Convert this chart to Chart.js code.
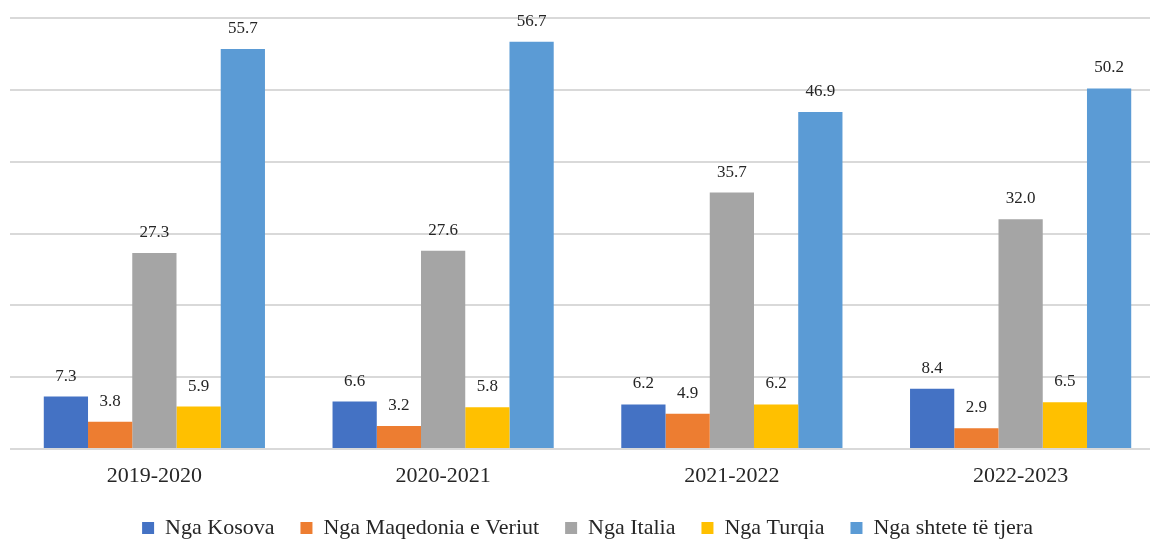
<!DOCTYPE html>
<html>
<head>
<meta charset="utf-8">
<script src="https://cdn.jsdelivr.net/npm/chart.js@4"></script>
<style>
  html, body { margin: 0; padding: 0; background: #fff; overflow: hidden; }
  #wrap { width: 1166px; height: 539px; position: relative; }
</style>
</head>
<body>
<div id="wrap"><canvas id="c"></canvas></div>
<script>
const categories = ['2019-2020', '2020-2021', '2021-2022', '2022-2023'];
const seriesNames = ['Nga Kosova', 'Nga Maqedonia e Veriut', 'Nga Italia', 'Nga Turqia', 'Nga shtete të tjera'];
const kosova = [7.3, 6.6, 6.2, 8.4];
const maqedonia = [3.8, 3.2, 4.9, 2.9];
const italia = [27.3, 27.6, 35.7, 32.0];
const turqia = [5.9, 5.8, 6.2, 6.5];
const shtete = [55.7, 56.7, 46.9, 50.2];
const colors = ['#4472C4', '#ED7D31', '#A5A5A5', '#FFC000', '#5B9BD5'];
const yMax = 60;
const yStep = 10;

const seriesValues = [kosova, maqedonia, italia, turqia, shtete];
const FONT = '"Liberation Serif", "Times New Roman", serif';
const LEGEND_HEIGHT = 48;
const XAXIS_HEIGHT = 42;

const valueLabels = {
  id: 'valueLabels',
  afterDatasetsDraw(chart) {
    const ctx = chart.ctx;
    ctx.save();
    ctx.font = '17px ' + FONT;
    ctx.fillStyle = '#262626';
    ctx.textAlign = 'center';
    ctx.textBaseline = 'alphabetic';
    chart.data.datasets.forEach((ds, i) => {
      const meta = chart.getDatasetMeta(i);
      meta.data.forEach((el, j) => {
        ctx.fillText(ds.data[j].toFixed(1), el.x, el.y - 16);
      });
    });
    ctx.restore();
  }
};

const legendHeightFix = {
  id: 'legendHeightFix',
  beforeLayout(chart) {
    const lg = chart.legend;
    if (lg && !lg._fixed) {
      const orig = lg.fit.bind(lg);
      lg.fit = function () { orig(); this.height = LEGEND_HEIGHT; };
      lg._fixed = true;
    }
  }
};

new Chart(document.getElementById('c'), {
  type: 'bar',
  data: {
    labels: categories,
    datasets: seriesNames.map((n, i) => ({
      label: n,
      data: seriesValues[i],
      backgroundColor: colors[i],
      borderWidth: 0,
      barPercentage: 1,
      categoryPercentage: 0.766
    }))
  },
  options: {
    responsive: true,
    maintainAspectRatio: false,
    animation: false,
    layout: { padding: { left: 10, right: 1, top: 18, bottom: 0 } },
    scales: {
      x: {
        grid: { display: false },
        border: { display: false },
        ticks: { color: '#262626', font: { family: FONT, size: 22 }, padding: 6 },
        afterFit(scale) { scale.height = XAXIS_HEIGHT; }
      },
      y: {
        min: 0, max: yMax,
        ticks: { display: false, stepSize: yStep },
        grid: { color: '#D9D9D9', lineWidth: 2, drawTicks: false },
        border: { display: false }
      }
    },
    plugins: {
      legend: {
        position: 'bottom',
        labels: {
          color: '#262626',
          font: { family: FONT, size: 22 },
          boxWidth: 12,
          boxHeight: 12,
          padding: 26
        }
      },
      tooltip: { enabled: false }
    }
  },
  plugins: [valueLabels, legendHeightFix]
});
</script>
</body>
</html>
